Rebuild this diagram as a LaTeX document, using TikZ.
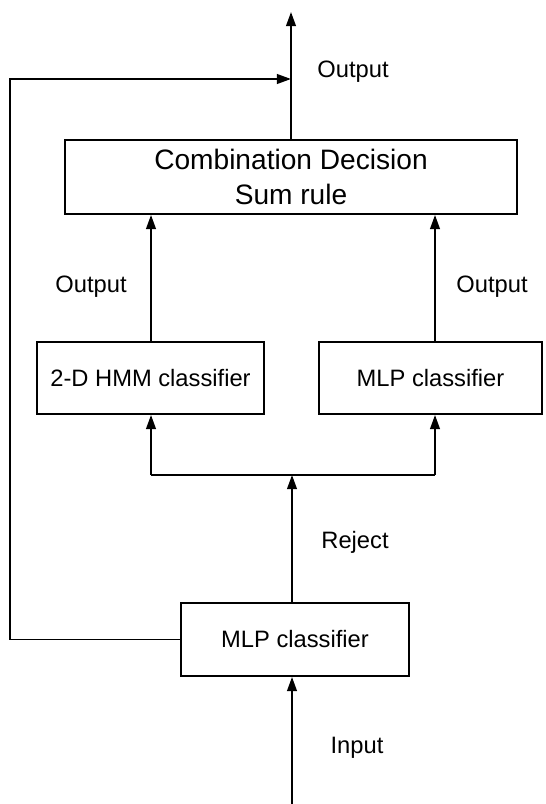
\documentclass[tikz,border=0pt]{standalone}
\usepackage{fontspec}
\setmainfont{Liberation Sans}
\usetikzlibrary{arrows.meta}
\tikzset{
	block/.style    = {draw, rectangle, inner sep=0pt,
		font=\fontsize{13.5}{16}\selectfont},
	label/.style    = {font=\fontsize{13.5}{16}\selectfont},
}

\begin{document}
\begin{tikzpicture}[ x=0.02cm, y=-0.02cm,              %<--one unit is one pixel of the sketch
					line width=1.1pt,                  %<--setting line style
					>={Triangle[length=8pt,width=5.5pt]} ] %<--sets the arrowtype
	\useasboundingbox (0,0) rectangle (546,804);

	\draw%-----------------------------------------------------------------------------------------
	%Drawing Input/Output:
	node[shape=coordinate][](input) at (292,804){}
	node[shape=coordinate][](output) at (291,12){}
	%Drawing the Classifier Blocks:
	node(comb) at (291,177) [block, minimum width=9.04cm, minimum height=1.48cm,
		align=center, font=\fontsize{16}{19.6}\selectfont] {Combination Decision\\Sum rule}
	node(hmm) at (150.5,378) [block, minimum width=4.54cm, minimum height=1.44cm] {2-D HMM classifier}
	node(mlpB) at (430.5,378) [block, minimum width=4.46cm, minimum height=1.44cm] {MLP classifier}
	node(mlpA) at (295,639.5) [block, minimum width=4.56cm, minimum height=1.46cm] {MLP classifier}
	%Drawing the Split/Feedback Nodes:
	node[shape=coordinate][](split) at (292,475){}
	node[shape=coordinate][](splitL) at (151,475){}
	node[shape=coordinate][](splitR) at (435,475){}
	node[shape=coordinate][](fbTop) at (10,79){}
	node[shape=coordinate][](fbJoin) at (291,79){}
	;%---------------------------------------------------------------------------------------------

	%Joining the Blocks
	\draw[->](input) -- (input |- mlpA.south);
	\draw[->](split |- mlpA.north) -- (split);
	\draw (splitL) -- (splitR);
	\draw[->](splitL) -- (splitL |- hmm.south);
	\draw[->](splitR) -- (splitR |- mlpB.south);
	\draw[->](splitL |- hmm.north) -- (splitL |- comb.south);
	\draw[->](splitR |- mlpB.north) -- (splitR |- comb.south);
	\draw[->](comb.north) -- (output);

	\draw[->] (mlpA.west) -| (fbTop) -- (fbJoin);

	%Labels
	\draw%--------------------------------------------------------------
	node(outTop) at (353,72) [label] {Output}
	node(outL) at (91,287) [label] {Output}
	node(outR) at (492,287) [label] {Output}
	node(reject) at (355,542) [label] {Reject}
	node(inLbl) at (357,748) [label] {Input}
	;%------------------------------------------------------------------

\end{tikzpicture}
\end{document}
